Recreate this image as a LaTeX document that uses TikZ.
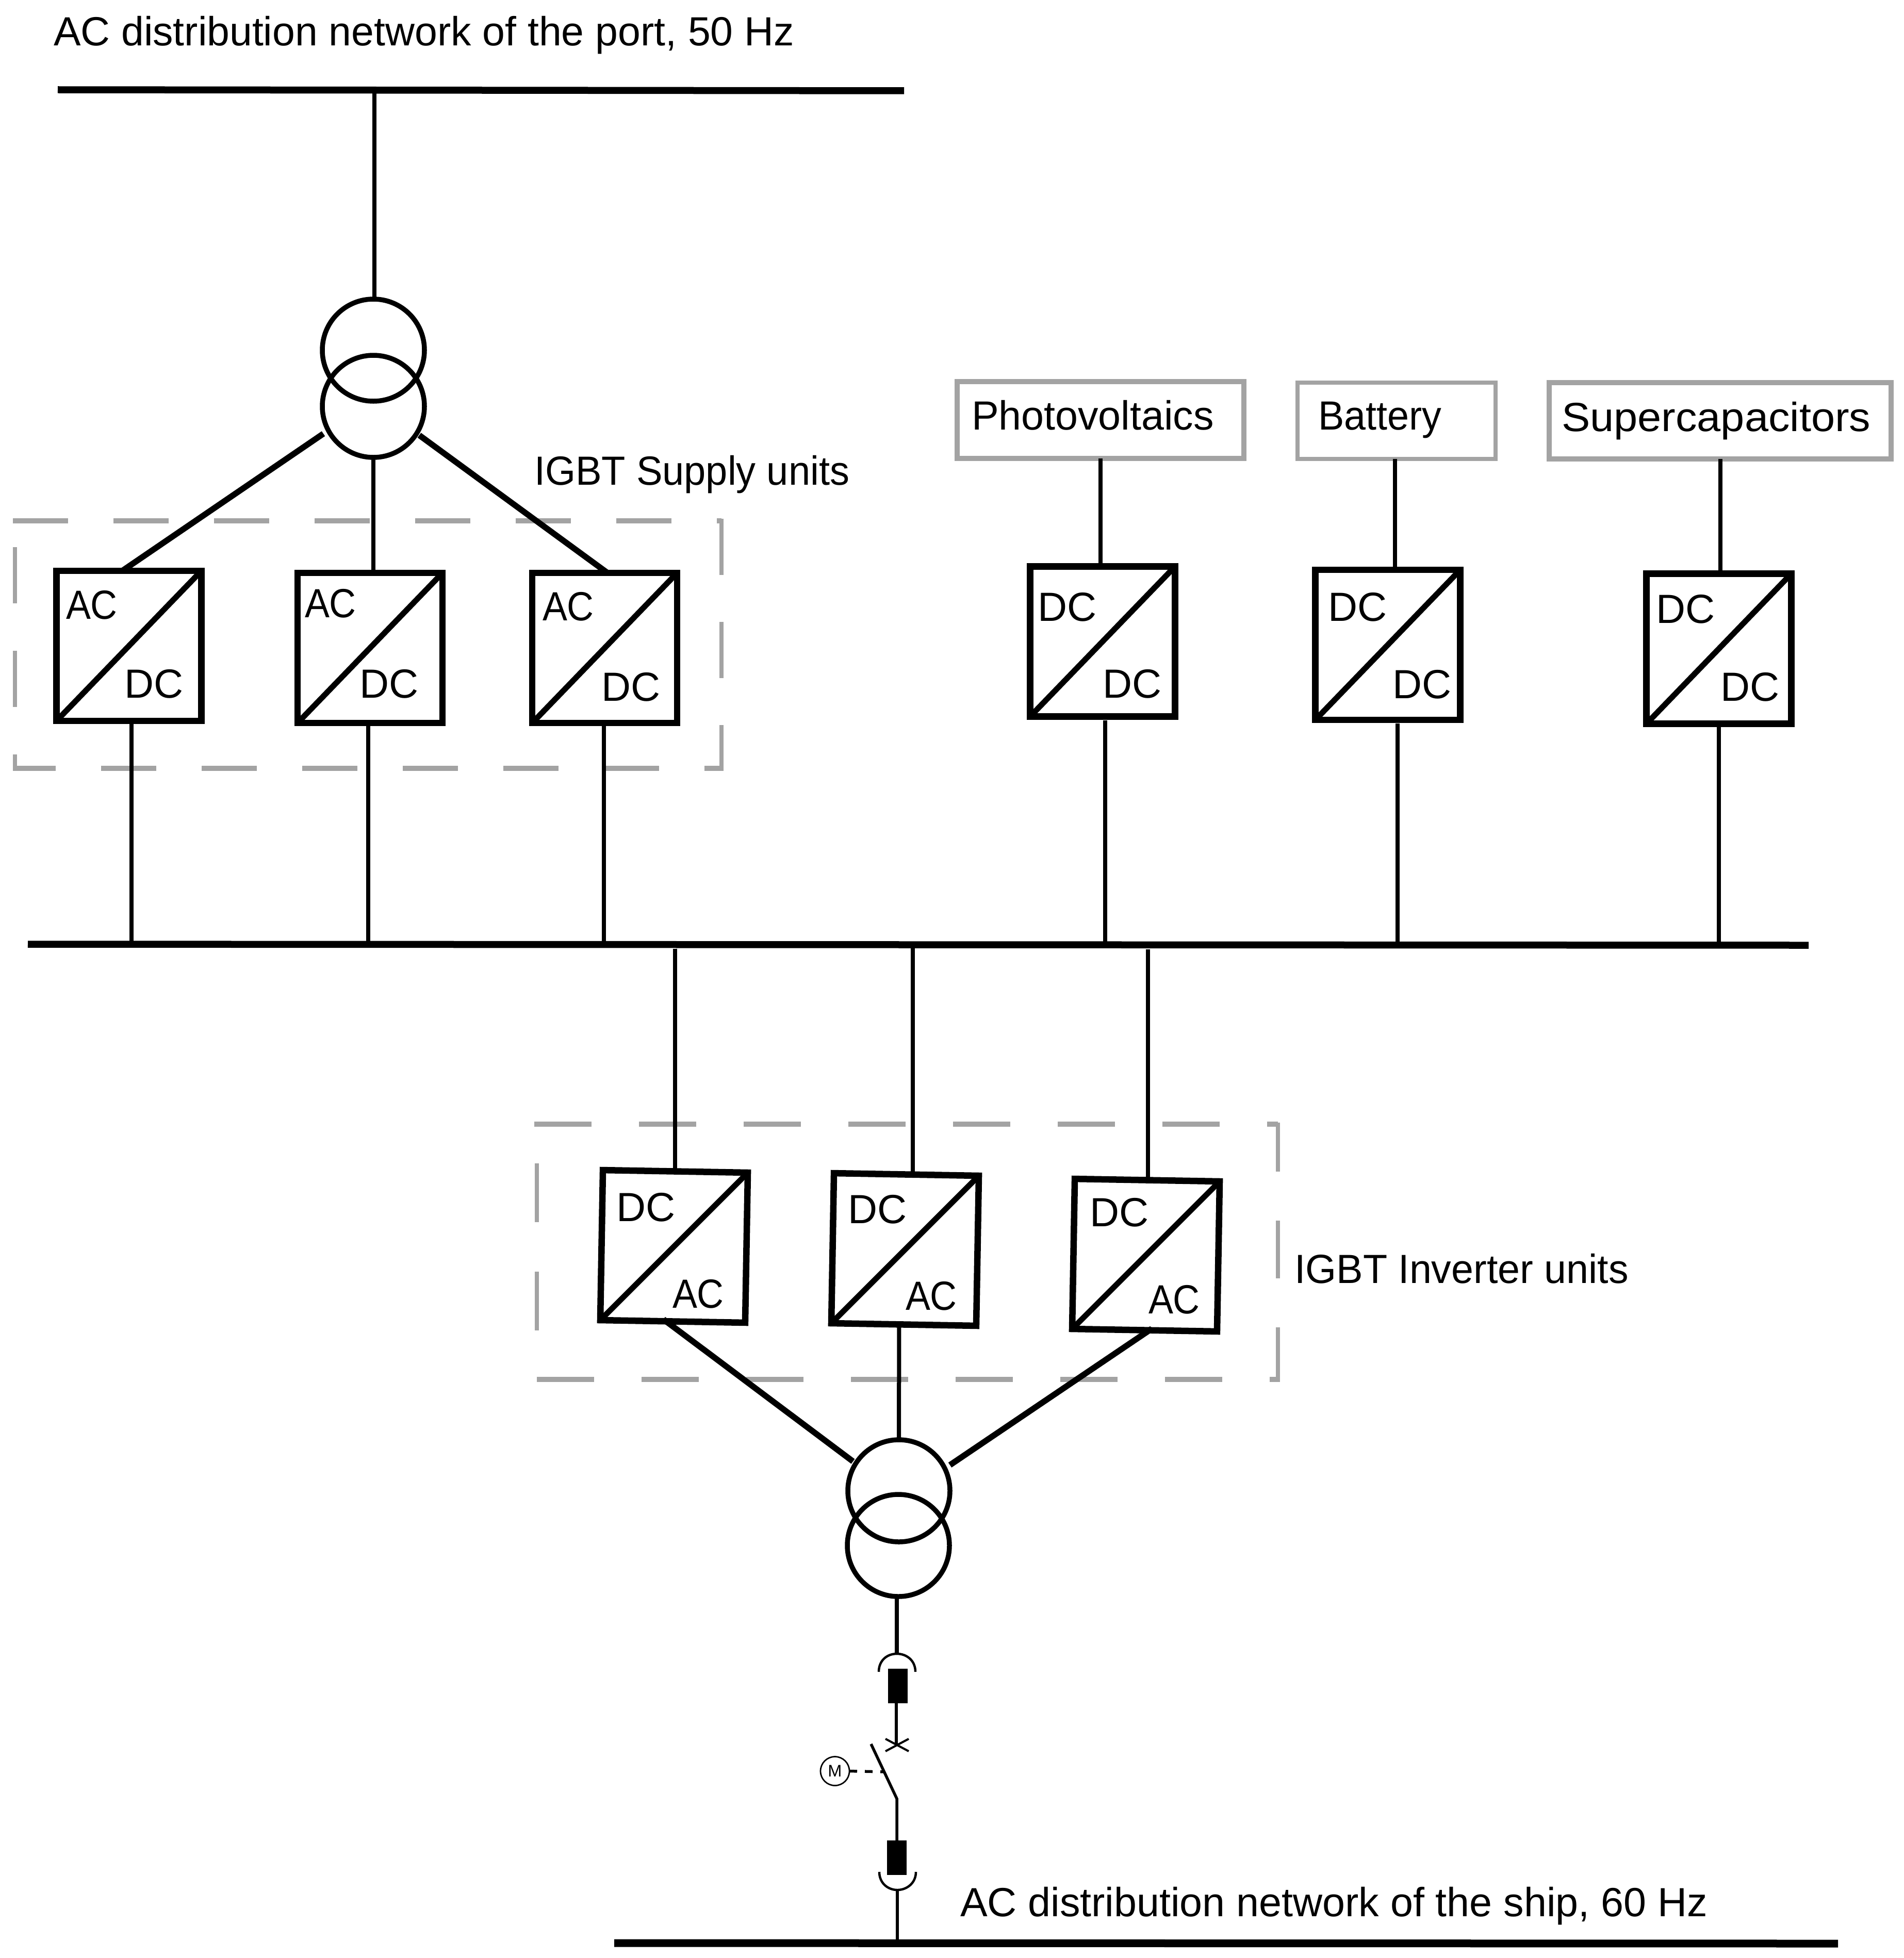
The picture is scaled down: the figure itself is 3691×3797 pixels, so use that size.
\documentclass[tikz,border=0pt]{standalone}
\usepackage{graphicx}
\usepackage{fontspec}
\setmainfont{Liberation Sans}
\definecolor{frame}{HTML}{A3A3A3}
\newcommand{\sx}[2]{\scalebox{#1}[1]{#2}}
\newcommand{\ACtxt}{\sx{0.91}{AC}}
\tikzset{
  lab/.style={anchor=base west,inner sep=0pt,outer sep=0pt,font=\fontsize{15.8pt}{18pt}\selectfont},
  conv/.style={draw=black,line width=2.5pt,fill=white,inner sep=0pt,outer sep=0pt,minimum width=56.2pt,minimum height=58.2pt},
  convdiag/.style={line width=2.2pt},
  xfmr/.style={circle,draw=black,line width=1.9pt,inner sep=0pt,outer sep=0pt,minimum size=39.6pt},
  bus/.style={line width=2.7pt},
  feeder/.style={line width=1.6pt},
  slant/.style={line width=2.3pt},
  fine/.style={line width=1.1pt},
  source/.style={draw=frame,line width=2pt,fill=white,inner sep=0pt,outer sep=0pt},
  grouph/.style={draw=frame,line width=2.1pt},
  groupv/.style={draw=frame,line width=1.7pt},
  block/.style={fill=black,inner sep=0pt,outer sep=0pt,minimum width=7.6pt,minimum height=13.4pt},
}
\begin{document}
\begin{tikzpicture}[x=0.2pt,y=-0.2pt]
\useasboundingbox (0,0) rectangle (3691,3797);
\fill[white] (0,0) rectangle (3691,3797);

% buses
\coordinate (portL) at (112,174);  \coordinate (portR) at (1753,176);
\coordinate (dcL) at (54,1831);    \coordinate (dcR) at (3507,1833);
\coordinate (dcM) at (1770,1832);
\coordinate (shipL) at (1191,3768); \coordinate (shipR) at (3564,3769);

% dashed groups: supply units
\draw[grouph,dash pattern=on 21.4pt off 17.6pt] (25,1010) -- (1399,1010);
\draw[groupv,dash pattern=on 21.8pt off 18.2pt] (1399,1006) -- (1399,1490);
\draw[grouph,dash pattern=on 21.4pt off 17.6pt,dash phase=4.8pt] (25,1490) -- (1403,1490);
\draw[groupv,dash pattern=on 21.8pt off 18.4pt] (29,1061) -- (29,1490);
% dashed groups: inverter units
\draw[grouph,dash pattern=on 22.2pt off 18.4pt] (1036,2180) -- (2478,2180);
\draw[groupv,dash pattern=on 22.4pt off 19pt,dash phase=3.4pt] (2478,2177) -- (2478,2679);
\draw[grouph,dash pattern=on 22.2pt off 18.4pt] (1041,2675) -- (2482,2675);
\draw[groupv,dash pattern=on 22.8pt off 19.2pt] (1041,2256) -- (1041,2580);

% transformers
\node[xfmr] (t1a) at (724,679) {};
\node[xfmr] (t1b) at (724,788) {};
\node[xfmr] (t2a) at (1743,2891) {};
\node[xfmr] (t2b) at (1742,2997) {};

% source boxes
\node[source,minimum width=111.2pt,minimum height=29.8pt] (pv) at (2134,814.5) {};
\node[source,line width=1.6pt,minimum width=76.8pt,minimum height=29.6pt] (bat) at (2708,816) {};
\node[source,minimum width=132.6pt,minimum height=29.6pt] (sup) at (3335.5,816) {};
\node[lab] (pvt) at (1884,833) {Photovoltaics};
\node[lab] (batt) at (2556,833) {\sx{0.955}{Battery}};
\node[lab] (supt) at (3028,836) {\sx{1.05}{Supercapacitors}};

% converters
\node[conv] (s1) at (250,1252.5) {};
\node[conv] (s2) at (717.5,1256.5) {};
\node[conv] (s3) at (1172.5,1256.5) {};
\node[conv] (c1) at (2138,1244) {};
\node[conv] (c2) at (2691,1250.5) {};
\node[conv] (c3) at (3333,1258) {};
\node[conv,rotate=-1] (i1) at (1307,2417) {};
\node[conv,rotate=-1] (i2) at (1755,2423) {};
\node[conv,rotate=-1] (i3) at (2222,2434) {};
\foreach \n in {s1,s2,s3,c1,c2,c3,i1,i2,i3}
  \draw[convdiag] (\n.south west) -- (\n.north east);

% converter labels
\node[lab] (s1a) at (128,1200) {\ACtxt};
\node[lab] (s1b) at (241,1353) {DC};
\node[lab] (s2a) at (591,1197) {\ACtxt};
\node[lab] (s2b) at (697,1353) {DC};
\node[lab] (s3a) at (1052,1203) {\ACtxt};
\node[lab] (s3b) at (1166,1359) {DC};
\node[lab] (c1a) at (2012,1204) {DC};
\node[lab] (c1b) at (2138,1353) {DC};
\node[lab] (c2a) at (2575,1204) {DC};
\node[lab] (c2b) at (2700,1354) {DC};
\node[lab] (c3a) at (3211,1208) {DC};
\node[lab] (c3b) at (3336,1359) {DC};
\node[lab] (i1a) at (1195,2368) {DC};
\node[lab] (i1b) at (1304,2536) {\ACtxt};
\node[lab] (i2a) at (1644,2372) {DC};
\node[lab] (i2b) at (1756,2540) {\ACtxt};
\node[lab] (i3a) at (2113,2378) {DC};
\node[lab] (i3b) at (2227,2547) {\ACtxt};

% free ends by the transformers
\coordinate (t1L) at (627,841);
\coordinate (t1R) at (813,844);
\coordinate (t2L) at (1654,2834);
\coordinate (t2R) at (1842,2841);

% upper feeders
\draw[feeder] ([xshift=0.3pt]t1a.north) -- ([xshift=0.3pt]t1a.north |- portL);
\draw[slant] (t1L) -- ([xshift=-2.6pt]s1.north);
\draw[feeder] (t1b.south) -- (t1b.south |- s2.north);
\draw[slant] (t1R) -- ([xshift=1.1pt]s3.north);

% converters to the DC bus
\draw[feeder] ([xshift=1pt]s1.south) -- ([xshift=1pt]s1.south |- dcM);
\draw[feeder] ([xshift=-0.7pt,yshift=-1.2pt]s2.south) -- ([xshift=-0.7pt]s2.south |- dcM);
\draw[feeder] ([xshift=-0.3pt]s3.south) -- ([xshift=-0.3pt]s3.south |- dcM);
\draw[feeder] ([xshift=1pt,yshift=-1.4pt]c1.south) -- ([xshift=1pt]c1.south |- dcM);
\draw[feeder] ([xshift=3.8pt,yshift=-1.4pt]c2.south) -- ([xshift=3.8pt]c2.south |- dcM);
\draw[feeder] (c3.south) -- (c3.south |- dcM);

% sources to converters
\draw[feeder] (pv.south) -- (pv.south |- c1.north);
\draw[feeder] ([xshift=-0.6pt]bat.south) -- ([xshift=-0.6pt]bat.south |- c2.north);
\draw[feeder] (sup.south) -- (sup.south |- c3.north);

% DC bus to inverters
\coordinate (d1) at (1309,1840);
\coordinate (d3) at (2226,1841);
\draw[feeder] (d1) -- (d1 |- i1.north);
\draw[feeder] (dcM) -- (dcM |- i2.north);
\draw[feeder] (d3) -- (d3 |- i3.north);

% inverters to transformer
\draw[slant] ([xshift=-3.6pt,yshift=0.8pt]i1.south) -- (t2L);
\draw[feeder] ([xshift=-1.8pt,yshift=0.4pt]i2.south) -- (t2a.north);
\draw[slant] ([xshift=2.8pt,yshift=0.6pt]i3.south) -- (t2R);

% ship side switchgear
\coordinate (cu) at (1739,3207);
\coordinate (cd) at (1740,3665);
\coordinate (xc) at (1738,3382);
\coordinate (swA) at (1689,3382);
\coordinate (swB) at (1739,3488);
\node[block] (r1) at (1741,3269.5) {};
\node[block] (r2) at (1739,3602.5) {};
\node[circle,draw=black,line width=0.55pt,inner sep=0pt,outer sep=0pt,minimum size=11.2pt,font=\fontsize{6.5pt}{7pt}\selectfont] (m) at (1619,3434.5) {M};

\draw[feeder] (cu |- t2b.south) -- (cu);
\draw[fine,line width=0.9pt] (1704,3242) .. controls (1704,3220) and (1720,3207) .. (cu) .. controls (1758,3207) and (1775,3220) .. (1775,3242);
\draw[fine] (r1.south -| xc) -- (xc);
\draw[fine,line width=0.8pt] (1717,3372) -- (1762,3396);
\draw[fine,line width=0.8pt] (1717,3396) -- (1762,3372);
\draw[fine] (swA) -- (swB) -- (r2.north);
\draw[fine,dash pattern=on 3pt off 3pt] (m.east) -- (1715,3436);
\draw[fine,line width=0.9pt] (1705,3630) .. controls (1705,3652) and (1722,3665) .. (cd) .. controls (1758,3665) and (1776,3652) .. (1776,3630);
\draw[fine] (cd) -- (cd |- shipL);

% buses on top
\draw[bus] (portL) -- (portR);
\draw[bus] (dcL) -- (dcR);
\draw[bus,line width=3pt] (shipL) -- (shipR);

% titles
\node[lab] (portT) at (104,89) {\sx{0.997}{AC distribution network of the port, 50 Hz}};
\node[lab] (shipT) at (1862,3716) {AC distribution network of the ship, 60 Hz};
\node[lab] (supT) at (1036,940) {\sx{0.96}{IGBT Supply units}};
\node[lab] (invT) at (2510,2488) {\sx{0.977}{IGBT Inverter units}};
\end{tikzpicture}
\end{document}
